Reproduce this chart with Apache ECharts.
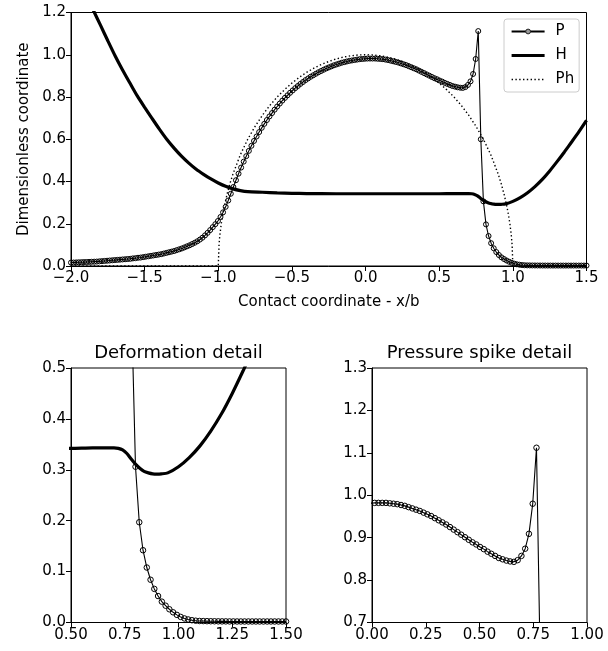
<!DOCTYPE html>
<html>
<head>
<meta charset="utf-8">
<script src="https://cdn.jsdelivr.net/npm/echarts@6/dist/echarts.min.js"></script>
<style>
  html, body { margin: 0; padding: 0; background: #fff; }
  #chart { width: 608px; height: 651px; }
</style>
</head>
<body>
<div id="chart"></div>
<script>
// pressure P sampled on a uniform grid x = -2 .. 1.5
var X_START = -2.0;
var X_STEP = 0.0175;
var pValues = [
  0.016, 0.0165, 0.017, 0.0175, 0.018, 0.0185, 0.019, 0.0195, 0.020, 0.0205,
  0.021, 0.022, 0.023, 0.024, 0.025, 0.026, 0.027, 0.028, 0.029, 0.030,
  0.031, 0.032, 0.033, 0.034, 0.036, 0.037, 0.039, 0.040, 0.042, 0.044,
  0.046, 0.048, 0.050, 0.052, 0.054, 0.056, 0.059, 0.062, 0.065, 0.068,
  0.071, 0.075, 0.079, 0.083, 0.088, 0.093, 0.098, 0.104, 0.110, 0.117,
  0.125, 0.134, 0.145, 0.157, 0.170, 0.184, 0.198, 0.213, 0.232, 0.254,
  0.280, 0.310, 0.342, 0.374, 0.406, 0.437, 0.466, 0.494, 0.520, 0.545,
  0.569, 0.592, 0.613, 0.634, 0.654, 0.673, 0.691, 0.708, 0.724, 0.740,
  0.755, 0.769, 0.783, 0.796, 0.808, 0.820, 0.831, 0.842, 0.852, 0.862,
  0.871, 0.880, 0.888, 0.896, 0.903, 0.910, 0.917, 0.923, 0.929, 0.935,
  0.940, 0.945, 0.950, 0.954, 0.958, 0.962, 0.965, 0.968, 0.971, 0.973,
  0.975, 0.977, 0.979, 0.980, 0.981, 0.982, 0.982, 0.982, 0.982, 0.981,
  0.980, 0.979, 0.977, 0.975, 0.972, 0.969, 0.966, 0.963, 0.959, 0.955,
  0.951, 0.946, 0.941, 0.936, 0.931, 0.925, 0.919, 0.913, 0.907, 0.901,
  0.895, 0.889, 0.884, 0.878, 0.873, 0.867, 0.862, 0.857, 0.852, 0.849,
  0.846, 0.844, 0.843, 0.847, 0.857, 0.874, 0.909, 0.980, 1.112, 0.600,
  0.306, 0.197, 0.142, 0.108, 0.084, 0.066, 0.052, 0.041, 0.033, 0.026,
  0.020, 0.015, 0.011, 0.008, 0.006, 0.0045, 0.0035, 0.003, 0.0028, 0.0026,
  0.0025, 0.0024, 0.0023, 0.0022, 0.0022, 0.0021, 0.0021, 0.0020, 0.0020, 0.0020,
  0.0020, 0.0020, 0.0020, 0.0020, 0.0020, 0.0020, 0.0020, 0.0020, 0.0020, 0.0020,
  0.0020
];

// film thickness H
var hX = [-2.0, -1.95, -1.9, -1.85, -1.8, -1.75, -1.7, -1.65, -1.6, -1.55,
  -1.5, -1.45, -1.4, -1.35, -1.3, -1.25, -1.2, -1.15, -1.1, -1.05,
  -1.0, -0.95, -0.9, -0.85, -0.8, -0.7, -0.6, -0.5, -0.4, -0.2,
  0.0, 0.2, 0.4, 0.5, 0.6, 0.65, 0.7, 0.72, 0.74, 0.76,
  0.78, 0.80, 0.82, 0.84, 0.86, 0.88, 0.90, 0.92, 0.95, 1.0,
  1.05, 1.1, 1.15, 1.2, 1.25, 1.3, 1.35, 1.4, 1.45, 1.5];
var hValues = [1.44, 1.37, 1.29, 1.213, 1.14, 1.066, 0.994, 0.928, 0.866, 0.805,
  0.751, 0.699, 0.648, 0.600, 0.558, 0.520, 0.487, 0.458, 0.434, 0.412,
  0.393, 0.377, 0.365, 0.357, 0.352, 0.349, 0.346, 0.344, 0.343, 0.342,
  0.342, 0.342, 0.342, 0.342, 0.343, 0.343, 0.343, 0.342, 0.339, 0.332,
  0.321, 0.311, 0.303, 0.297, 0.294, 0.292, 0.2915, 0.292, 0.294, 0.306,
  0.324, 0.347, 0.376, 0.41, 0.45, 0.494, 0.54, 0.588, 0.637, 0.689];

// Hertzian pressure Ph
var phX = [-2.0, -1.0, -0.995, -0.99, -0.98, -0.97, -0.96, -0.94, -0.92, -0.9,
  -0.85, -0.8, -0.75, -0.7, -0.65, -0.6, -0.55, -0.5, -0.45, -0.4,
  -0.35, -0.3, -0.25, -0.2, -0.15, -0.1, -0.05, 0.0, 0.05, 0.1,
  0.15, 0.2, 0.25, 0.3, 0.35, 0.4, 0.45, 0.5, 0.55, 0.6,
  0.65, 0.7, 0.75, 0.8, 0.85, 0.9, 0.92, 0.94, 0.96, 0.97,
  0.98, 0.99, 0.995, 1.0, 1.5];
var phValues = [0, 0, 0.0999, 0.141, 0.199, 0.243, 0.280, 0.341, 0.392, 0.436,
  0.527, 0.600, 0.661, 0.714, 0.760, 0.800, 0.835, 0.866, 0.893, 0.917,
  0.937, 0.954, 0.968, 0.980, 0.989, 0.995, 0.999, 1.0, 0.999, 0.995,
  0.989, 0.980, 0.968, 0.954, 0.937, 0.917, 0.893, 0.866, 0.835, 0.800,
  0.760, 0.714, 0.661, 0.600, 0.527, 0.436, 0.392, 0.341, 0.280, 0.243,
  0.199, 0.141, 0.0999, 0, 0];

var FONT = 'DejaVu Sans';

function pairs(xs, ys) {
  var out = [];
  for (var i = 0; i < ys.length; i++) out.push([xs[i], ys[i]]);
  return out;
}
var pX = [];
for (var i = 0; i < pValues.length; i++) pX.push(+(X_START + i * X_STEP).toFixed(4));
var pData = pairs(pX, pValues);
var hData = pairs(hX, hValues);
var phData = pairs(phX, phValues);

function fmt(d) {
  return function (v) {
    var s = Math.abs(v).toFixed(d);
    return v < -1e-9 ? '\u2212' + s : s;
  };
}

function xAx(idx, min, max, step, d, name) {
  return {
    type: 'value', gridIndex: idx, min: min, max: max, interval: step,
    name: name || '', nameLocation: 'middle', nameGap: 29,
    nameTextStyle: { fontFamily: FONT, fontSize: 15, color: '#000' },
    axisLine: { show: true, onZero: false, lineStyle: { color: '#000', width: 1 } },
    axisTick: { show: true, length: 5, lineStyle: { color: '#000' } },
    axisLabel: { fontFamily: FONT, fontSize: 15, color: '#000', margin: 5, formatter: fmt(d),
      showMinLabel: true, showMaxLabel: true },
    splitLine: { show: false }
  };
}
function yAx(idx, min, max, step, name) {
  return {
    type: 'value', gridIndex: idx, min: min, max: max, interval: step,
    name: name || '', nameLocation: 'middle', nameGap: 39,
    nameTextStyle: { fontFamily: FONT, fontSize: 15, color: '#000' },
    axisLine: { show: true, onZero: false, lineStyle: { color: '#000', width: 1 } },
    axisTick: { show: true, length: 5, lineStyle: { color: '#000' } },
    axisLabel: { fontFamily: FONT, fontSize: 15, color: '#000', margin: 5, formatter: fmt(1),
      showMinLabel: true, showMaxLabel: true },
    splitLine: { show: false }
  };
}

function pSeries(idx, size) {
  return {
    name: 'P', type: 'line', xAxisIndex: idx, yAxisIndex: idx, data: pData,
    symbol: 'circle', symbolSize: size, showSymbol: true, clip: true,
    lineStyle: { color: '#000', width: 1.1 },
    itemStyle: { color: 'rgba(0,0,0,0)', borderColor: '#000', borderWidth: 1 },
    emphasis: { disabled: true }, animation: false, z: 2
  };
}
function hSeries(idx) {
  return {
    name: 'H', type: 'line', xAxisIndex: idx, yAxisIndex: idx, data: hData,
    symbol: 'none', smooth: 0.25, clip: true,
    lineStyle: { color: '#000', width: 3.2 },
    itemStyle: { color: 'rgba(0,0,0,0)', borderWidth: 0 },
    emphasis: { disabled: true }, animation: false, z: 3
  };
}

var chart = echarts.init(document.getElementById('chart'), null, { renderer: 'canvas' });
chart.setOption({
  backgroundColor: '#fff',
  animation: false,
  grid: [
    { left: 71, top: 12.5, width: 515.5, height: 253.5, show: true, borderColor: '#000', borderWidth: 1, outerBoundsMode: 'none' },
    { left: 71, top: 368, width: 215, height: 254.5, show: true, borderColor: '#000', borderWidth: 1, outerBoundsMode: 'none' },
    { left: 372, top: 368, width: 215, height: 254.5, show: true, borderColor: '#000', borderWidth: 1, outerBoundsMode: 'none' }
  ],
  xAxis: [
    xAx(0, -2.0, 1.5, 0.5, 1, 'Contact coordinate - x/b'),
    xAx(1, 0.5, 1.5, 0.25, 2),
    xAx(2, 0.0, 1.0, 0.25, 2)
  ],
  yAxis: [
    yAx(0, 0, 1.2, 0.2, 'Dimensionless coordinate'),
    yAx(1, 0, 0.5, 0.1),
    yAx(2, 0.7, 1.3, 0.1)
  ],
  legend: {
    data: [
      { name: 'P', itemStyle: { color: '#999', borderColor: '#222', borderWidth: 1 } },
      { name: 'H', lineStyle: { width: 3.2, color: '#000' } },
      { name: 'Ph', lineStyle: { width: 1.4, color: '#000', type: [1.4, 2.4] } }
    ],
    orient: 'vertical', left: 504, top: 19,
    itemWidth: 33, itemHeight: 6, itemGap: 9,
    padding: [5, 5, 5, 6],
    backgroundColor: 'rgba(255,255,255,0.85)',
    borderColor: '#cccccc', borderWidth: 1, borderRadius: 3,
    textStyle: { fontFamily: FONT, fontSize: 15, color: '#000', padding: [0, 0, 0, 6] },
    selectedMode: false
  },
  graphic: [
    { type: 'text', x: 178.5, y: 353, style: { text: 'Deformation detail', fontFamily: FONT, fontSize: 18, fill: '#000', align: 'center', verticalAlign: 'middle' } },
    { type: 'text', x: 479.5, y: 353, style: { text: 'Pressure spike detail', fontFamily: FONT, fontSize: 18, fill: '#000', align: 'center', verticalAlign: 'middle' } }
  ],
  series: [
    pSeries(0, 5),
    hSeries(0),
    {
      name: 'Ph', type: 'line', xAxisIndex: 0, yAxisIndex: 0, data: phData,
      symbol: 'none', clip: true,
      lineStyle: { color: '#000', width: 1.4, type: [1.4, 2.4] },
      itemStyle: { color: 'rgba(0,0,0,0)', borderWidth: 0 },
      emphasis: { disabled: true }, animation: false, z: 4
    },
    pSeries(1, 5.5),
    hSeries(1),
    pSeries(2, 5.5),
    hSeries(2)
  ]
});
</script>
</body>
</html>
